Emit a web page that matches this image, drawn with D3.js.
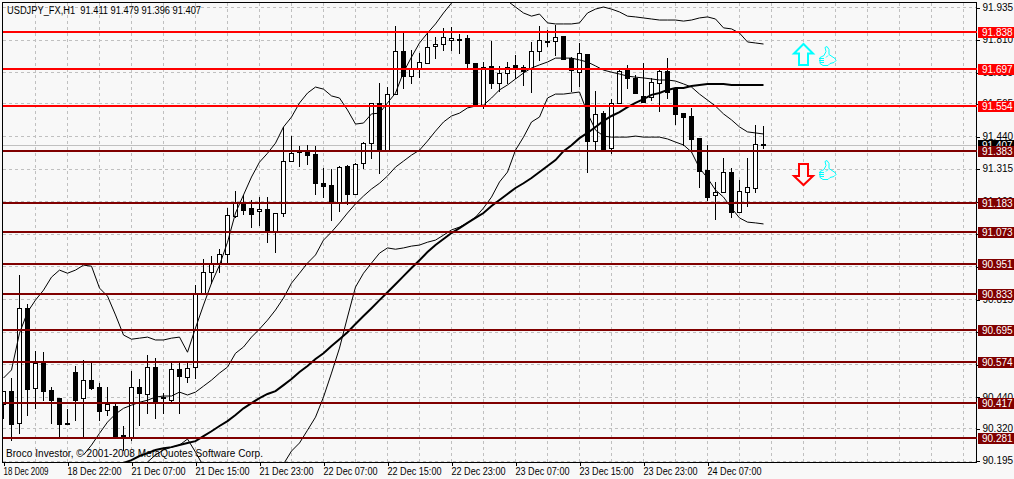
<!DOCTYPE html>
<html>
<head>
<meta charset="utf-8">
<script src="https://cdn.jsdelivr.net/npm/d3@7/dist/d3.min.js"></script>
<style>
html,body{margin:0;padding:0;background:#f8f8f8;overflow:hidden}
svg{display:block}
text{font-family:"Liberation Sans",Arial,sans-serif;font-size:10px;white-space:pre}
</style>
</head>
<body>
<svg id="c" width="1014" height="479"></svg>
<script>
const instrument = "USDJPY_FX,H1";
const lastQuote = [91.411, 91.479, 91.396, 91.407];
const credit = "Broco Investor, © 2001-2008 MetaQuotes Software Corp.";

const opens = [90.412,90.462,90.339,90.780,90.473,90.569,90.466,90.435,90.339,90.535,90.435,90.504,90.477,90.389,90.404,90.293,90.285,90.477,90.451,90.554,90.439,90.427,90.546,90.516,90.554,90.834,90.918,90.949,90.988,91.133,91.183,91.164,91.152,91.160,91.076,91.145,91.344,91.382,91.378,91.371,91.259,91.252,91.187,91.325,91.218,91.336,91.413,91.567,91.386,91.601,91.766,91.670,91.697,91.720,91.785,91.793,91.808,91.813,91.816,91.720,91.559,91.709,91.644,91.682,91.713,91.705,91.697,91.766,91.805,91.804,91.824,91.739,91.685,91.755,91.421,91.528,91.394,91.567,91.693,91.663,91.594,91.590,91.644,91.689,91.621,91.528,91.517,91.433,91.310,91.214,91.225,91.302,91.149,91.225,91.240,91.411];
const highs = [90.462,90.512,90.907,90.796,90.615,90.611,90.477,90.435,90.392,90.558,90.581,90.569,90.492,90.477,90.412,90.328,90.539,90.508,90.600,90.588,90.454,90.569,90.569,90.569,90.869,90.968,90.980,91.006,91.164,91.229,91.214,91.195,91.206,91.206,91.145,91.475,91.440,91.402,91.405,91.402,91.317,91.313,91.325,91.329,91.336,91.417,91.567,91.644,91.628,91.862,91.839,91.770,91.758,91.835,91.820,91.855,91.858,91.832,91.828,91.720,91.724,91.804,91.709,91.724,91.751,91.713,91.801,91.862,91.847,91.866,91.824,91.743,91.797,91.755,91.613,91.536,91.582,91.693,91.713,91.674,91.720,91.663,91.701,91.739,91.621,91.528,91.548,91.433,91.406,91.264,91.356,91.317,91.271,91.356,91.483,91.479];
const lows = [90.358,90.274,90.300,90.370,90.396,90.427,90.339,90.285,90.334,90.351,90.285,90.469,90.351,90.370,90.285,90.236,90.274,90.332,90.377,90.358,90.377,90.419,90.377,90.496,90.512,90.834,90.876,90.918,90.956,91.129,91.141,91.091,91.099,91.033,90.995,91.133,91.344,91.325,91.333,91.218,91.206,91.118,91.152,91.180,91.218,91.317,91.356,91.298,91.386,91.601,91.624,91.644,91.666,91.720,91.739,91.770,91.770,91.758,91.701,91.555,91.548,91.624,91.613,91.644,91.663,91.636,91.609,91.732,91.785,91.751,91.736,91.613,91.632,91.302,91.390,91.386,91.375,91.567,91.624,91.605,91.571,91.578,91.536,91.586,91.486,91.406,91.386,91.245,91.195,91.122,91.225,91.129,91.149,91.172,91.225,91.396];
const closes = [90.462,90.336,90.780,90.469,90.569,90.462,90.427,90.336,90.336,90.427,90.504,90.473,90.385,90.412,90.289,90.285,90.477,90.454,90.554,90.423,90.437,90.546,90.520,90.550,90.834,90.918,90.949,90.988,91.137,91.183,91.156,91.141,91.160,91.076,91.145,91.344,91.374,91.379,91.367,91.259,91.248,91.187,91.321,91.218,91.333,91.413,91.567,91.386,91.601,91.766,91.670,91.697,91.724,91.782,91.793,91.820,91.816,91.811,91.720,91.555,91.705,91.644,91.682,91.705,91.697,91.689,91.766,91.808,91.804,91.820,91.736,91.693,91.758,91.421,91.525,91.386,91.567,91.689,91.663,91.605,91.571,91.647,91.689,91.609,91.525,91.513,91.429,91.306,91.206,91.225,91.302,91.149,91.229,91.244,91.409,91.407];

const bandUpper = [90.512,90.543,90.684,90.765,90.811,90.849,90.899,90.926,90.914,90.926,90.945,90.941,90.857,90.826,90.754,90.677,90.661,90.665,90.669,90.658,90.658,90.665,90.669,90.611,90.704,90.792,90.876,90.945,91.033,91.145,91.214,91.283,91.340,91.374,91.413,91.475,91.513,91.567,91.605,91.628,91.620,91.594,91.586,91.540,91.486,91.490,91.525,91.528,91.567,91.605,91.685,91.743,91.797,91.835,91.870,91.912,91.950,null,null,null,null,null,null,91.958,91.935,91.912,91.900,91.908,91.874,91.870,91.870,91.870,91.874,91.912,91.927,91.935,91.927,91.916,91.900,91.897,91.893,91.889,91.885,91.885,91.885,91.881,91.885,91.893,91.897,91.889,91.855,91.851,91.835,91.801,91.797,91.793];
const bandMiddle = [null,null,null,null,null,null,null,null,null,null,90.217,90.255,90.300,90.343,90.374,90.396,90.408,90.419,90.427,90.439,90.443,90.443,90.458,90.447,90.458,90.481,90.504,90.531,90.554,90.607,90.631,90.669,90.700,90.734,90.773,90.819,90.876,90.914,90.953,90.984,91.041,91.072,91.107,91.145,91.180,91.210,91.237,91.259,91.287,91.321,91.344,91.367,91.386,91.421,91.459,91.494,91.517,91.528,91.548,91.555,91.559,91.586,91.617,91.636,91.659,91.682,91.701,91.713,91.724,91.739,91.739,91.739,91.732,91.724,91.709,91.693,91.685,91.678,91.670,91.666,91.663,91.659,91.655,91.655,91.651,91.640,91.628,91.601,91.578,91.555,91.525,91.502,91.475,91.456,91.452,91.448];
const bandLower = [null,null,null,null,null,null,null,null,null,null,null,null,null,null,null,null,null,null,90.190,90.217,90.236,90.247,90.255,90.278,90.228,90.174,null,null,null,null,null,null,null,null,null,90.182,90.232,90.263,90.312,90.362,90.439,90.531,90.627,90.746,90.861,90.914,90.953,90.991,91.011,91.006,91.011,91.018,91.022,91.033,91.041,91.060,91.080,91.091,91.107,91.129,91.164,91.206,91.264,91.302,91.386,91.436,91.494,91.513,91.586,91.601,91.601,91.605,91.609,91.528,91.463,91.440,91.436,91.436,91.436,91.440,91.436,91.436,91.436,91.429,91.417,91.406,91.379,91.317,91.279,91.233,91.206,91.164,91.126,91.110,91.107,91.103];
const movingAverage = [null,null,null,null,null,null,null,null,null,null,null,null,null,null,null,90.186,90.197,90.213,90.224,90.236,90.243,90.247,90.255,90.263,90.270,90.289,90.308,90.328,90.347,90.370,90.396,90.416,90.435,90.451,90.462,90.485,90.508,90.535,90.558,90.585,90.607,90.635,90.661,90.688,90.719,90.750,90.780,90.811,90.841,90.872,90.903,90.934,90.964,90.995,91.022,91.045,91.068,91.087,91.107,91.126,91.145,91.172,91.195,91.218,91.241,91.259,91.279,91.302,91.325,91.348,91.382,91.405,91.432,91.452,91.475,91.498,91.517,91.532,91.551,91.567,91.582,91.598,91.605,91.617,91.624,91.624,91.632,91.636,91.640,91.640,91.640,91.636,91.636,91.636,91.636,91.636];

const resistanceLevels = [91.838, 91.697, 91.554];
const supportLevels = [91.383, 91.183, 91.073, 90.951, 90.833, 90.695, 90.574, 90.417, 90.281];
const priceTicks = [91.935,91.810,91.685,91.565,91.440,91.315,91.190,91.065,90.940,90.815,90.690,90.565,90.440,90.320,90.195];
const timeTickBars = [0,8,16,24,32,40,48,56,64,72,80,88];
const timeTickLabels = ["18 Dec 2009","18 Dec 22:00","21 Dec 07:00","21 Dec 15:00","21 Dec 23:00","22 Dec 07:00","22 Dec 15:00","22 Dec 23:00","23 Dec 07:00","23 Dec 15:00","23 Dec 23:00","24 Dec 07:00"];

const PLOT = {left:2.5, right:976.5, top:2.5, bottom:462.5};
const svg = d3.select("#c");
const bars = d3.range(opens.length);
const x = d3.scaleLinear().domain([0, 1]).range([3, 11]);
const y = d3.scaleLinear().domain([90.195, 91.935]).range([460.7, 7]);
const px = v => Math.round(y(v));

svg.append("rect").attr("width",1014).attr("height",479).attr("fill","#f8f8f8");
svg.append("defs").append("clipPath").attr("id","plot").append("rect")
  .attr("x",PLOT.left).attr("y",PLOT.top)
  .attr("width",PLOT.right-PLOT.left).attr("height",PLOT.bottom-PLOT.top);

// grid
const gridBars = d3.range(4, 122, 4);
const grid = svg.append("g").attr("stroke","#c0c0c0").attr("stroke-dasharray","3,3")
  .attr("shape-rendering","crispEdges");
grid.selectAll("line.v").data(gridBars).join("line").attr("class","v")
  .attr("x1",d=>x(d)+.5).attr("x2",d=>x(d)+.5).attr("y1",PLOT.top).attr("y2",PLOT.bottom);
grid.selectAll("line.h").data(priceTicks).join("line").attr("class","h")
  .attr("x1",PLOT.left).attr("x2",PLOT.right)
  .attr("y1",d=>px(d)+.5).attr("y2",d=>px(d)+.5);

const plot = svg.append("g").attr("clip-path","url(#plot)");

// current price line
plot.append("line").attr("x1",PLOT.left).attr("x2",PLOT.right)
  .attr("y1",px(lastQuote[3])+.5).attr("y2",px(lastQuote[3])+.5)
  .attr("stroke","#c0c0c0").attr("shape-rendering","crispEdges");

// candles
const candle = plot.append("g").attr("shape-rendering","crispEdges");
candle.selectAll("line").data(bars).join("line")
  .attr("x1",i=>x(i)+.5).attr("x2",i=>x(i)+.5)
  .attr("y1",i=>px(highs[i])).attr("y2",i=>px(lows[i])+1)
  .attr("stroke","#000");
candle.selectAll("rect").data(bars).join("rect")
  .each(function(i){
    const up = closes[i] > opens[i];
    const t = px(Math.max(opens[i],closes[i])), b = px(Math.min(opens[i],closes[i]));
    if (up) {
      d3.select(this).attr("x",x(i)-1.5).attr("width",4).attr("y",t+.5).attr("height",Math.max(b-t,1))
        .attr("fill","#fff").attr("stroke","#000");
    } else {
      d3.select(this).attr("x",x(i)-2).attr("width",5).attr("y",t).attr("height",Math.max(b-t+1,2))
        .attr("fill","#000");
    }
  });

// indicators
const pathOf = d3.line().defined(d=>d!==null).x((d,i)=>x(i)+.5).y(d=>y(d));
plot.selectAll("path.band").data([bandUpper,bandMiddle,bandLower]).join("path").attr("class","band")
  .attr("d",pathOf).attr("fill","none").attr("stroke","#000").attr("stroke-width",1);
plot.append("path").attr("d",pathOf(movingAverage)).attr("fill","none")
  .attr("stroke","#000").attr("stroke-width",2);

// axes
const axisRight = d3.axisRight(y).tickValues(priceTicks).tickFormat(d3.format(".3f")).tickSize(3).tickPadding(3);
const gr = svg.append("g").attr("transform",`translate(${PLOT.right},0)`).call(axisRight);
const timeAxis = d3.axisBottom(x).tickValues(timeTickBars)
  .tickFormat((d,i)=>timeTickLabels[i]).tickSize(3).tickPadding(2);
const gb = svg.append("g").attr("transform",`translate(0,${PLOT.bottom})`).call(timeAxis);
gb.selectAll(".tick text").attr("text-anchor","start").attr("fill","#000").attr("x",0)
  .attr("textLength",(d,i)=>i===0?45:54).attr("lengthAdjust","spacingAndGlyphs");
gr.selectAll(".tick text").attr("fill","#000");
gr.selectAll(".tick line").attr("y1",.5).attr("y2",.5).attr("shape-rendering","crispEdges");
gb.selectAll(".tick line").attr("x1",.5).attr("x2",.5).attr("shape-rendering","crispEdges");
svg.selectAll(".domain").remove();

svg.append("rect").attr("x",PLOT.left).attr("y",PLOT.top)
  .attr("width",PLOT.right-PLOT.left).attr("height",PLOT.bottom-PLOT.top)
  .attr("fill","none").attr("stroke","#000").attr("shape-rendering","crispEdges");

// current price tag
const tag = (v,bg) => {
  const g = svg.append("g");
  g.append("rect").attr("x",978).attr("width",36).attr("y",px(v)-5).attr("height",11).attr("fill",bg);
  g.append("text").attr("x",982).attr("y",px(v)+4).attr("fill","#fff").text(d3.format(".3f")(v));
};
tag(lastQuote[3],"#000");

// horizontal levels
const levels = svg.append("g").attr("shape-rendering","crispEdges");
const drawLevels = (vals,col) => {
  levels.selectAll(null).data(vals).join("rect")
    .attr("x",PLOT.left).attr("width",PLOT.right-PLOT.left)
    .attr("y",d=>px(d)-1).attr("height",2).attr("fill",col);
  vals.forEach(v=>tag(v,col));
};
drawLevels(resistanceLevels,"#ff0000");
drawLevels(supportLevels,"#800000");

// signal arrows and thumbs
const deco = svg.append("g");
const arrowUp = "M803.5 44 L813 53.5 L808 53.5 L808 65 L799 65 L799 53.5 L794 53.5 Z";
const arrowDown = "M799 164 L808 164 L808 176 L813 176 L803.5 185 L794 176 L799 176 Z";
deco.append("path").attr("d",arrowUp).attr("fill","#f8f8f8").attr("stroke","#00ffff").attr("stroke-width",2);
deco.append("path").attr("d",arrowDown).attr("fill","#f8f8f8").attr("stroke","#ff0000").attr("stroke-width",2);
const thumb = "M1 11 L5 9 L7 5 L6 1 L8 0 L10 3 L10 8 L16 12 L17 14 L15 16 L11 17 L9 19 L4 19 L1 17 Z M0 12 L5 12 M0 14 L5 14 M1 16 L5 16 M9 9 L7 11";
[[819,46.5],[819,160.5]].forEach(([tx,ty])=>{
  deco.append("path").attr("d",thumb).attr("transform",`translate(${tx},${ty})`)
    .attr("fill","none").attr("stroke","#00ffff").attr("stroke-width",1);
});

// captions
svg.append("text").attr("x",7).attr("y",14).attr("fill","#000")
  .attr("textLength",194).attr("lengthAdjust","spacingAndGlyphs")
  .text(instrument+"  "+lastQuote.map(d3.format(".3f")).join(" "));
svg.append("text").attr("x",6).attr("y",457).attr("fill","#000")
  .attr("textLength",257).attr("lengthAdjust","spacing").text(credit);
</script>
</body>
</html>
